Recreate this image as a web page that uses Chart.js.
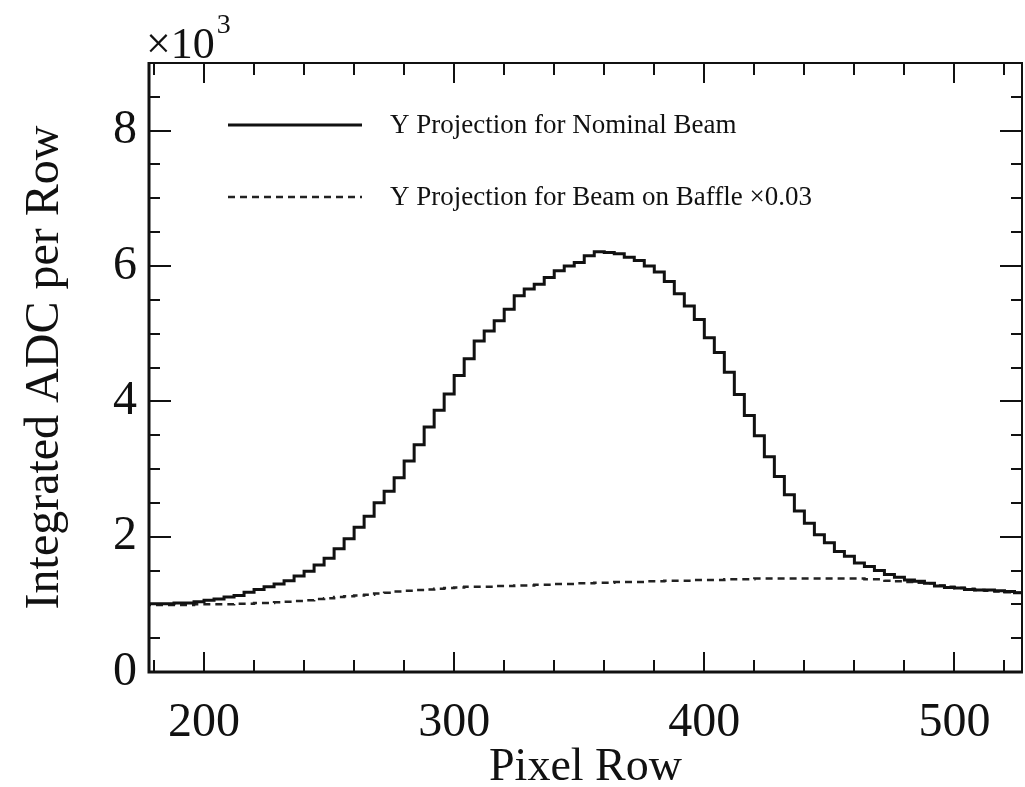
<!DOCTYPE html>
<html><head><meta charset="utf-8">
<script src="https://cdn.jsdelivr.net/npm/chart.js@4.4.0/dist/chart.umd.min.js"></script>
<style>html,body{margin:0;padding:0;background:#fff;}#wrap{width:1025px;height:787px;}</style>
</head><body><div id="wrap"><canvas id="c" width="1025" height="787"></canvas></div>
<script>
// Bin left edges (pixel rows), bin width 4
const binStarts = [180,184,188,192,196,200,204,208,212,216,220,224,228,232,236,240,244,248,252,256,260,264,268,272,276,280,284,288,292,296,300,304,308,312,316,320,324,328,332,336,340,344,348,352,356,360,364,368,372,376,380,384,388,392,396,400,404,408,412,416,420,424,428,432,436,440,444,448,452,456,460,464,468,472,476,480,484,488,492,496,500,504,508,512,516,520,524,528];
const binEnd = 532;
const leftEdge = 176;
// Integrated ADC per row (x10^3)
const nominalBeam = [1.01,1.01,1.01,1.02,1.02,1.04,1.06,1.08,1.11,1.13,1.18,1.22,1.26,1.30,1.35,1.42,1.49,1.58,1.68,1.82,1.97,2.14,2.30,2.50,2.67,2.87,3.12,3.36,3.62,3.87,4.11,4.38,4.63,4.89,5.04,5.19,5.36,5.56,5.66,5.73,5.83,5.93,6.00,6.05,6.15,6.21,6.20,6.18,6.13,6.08,6.00,5.91,5.77,5.59,5.41,5.21,4.94,4.72,4.43,4.10,3.79,3.49,3.18,2.89,2.62,2.38,2.20,2.03,1.91,1.78,1.71,1.61,1.56,1.50,1.44,1.40,1.36,1.34,1.31,1.27,1.25,1.24,1.22,1.21,1.21,1.20,1.19,1.17];
const beamOnBaffle = [0.99,0.99,0.99,0.99,0.99,1.00,1.00,1.00,1.00,1.01,1.01,1.02,1.02,1.03,1.04,1.05,1.06,1.08,1.09,1.11,1.12,1.13,1.14,1.16,1.17,1.19,1.20,1.21,1.22,1.23,1.24,1.25,1.26,1.26,1.26,1.27,1.27,1.28,1.28,1.29,1.29,1.30,1.30,1.31,1.31,1.32,1.32,1.33,1.33,1.33,1.34,1.34,1.35,1.35,1.35,1.36,1.36,1.36,1.37,1.37,1.37,1.38,1.38,1.38,1.38,1.38,1.38,1.38,1.38,1.38,1.38,1.38,1.37,1.37,1.35,1.34,1.33,1.32,1.31,1.28,1.26,1.24,1.23,1.21,1.20,1.19,1.18,1.17];
const seriesLabels = ['Y Projection for Nominal Beam', 'Y Projection for Beam on Baffle \u00d70.03'];
const xTickValues = [200,300,400,500];
const yTickValues = [0,2,4,6,8];
const xTitle = 'Pixel Row';
const yTitle = 'Integrated ADC per Row';
const yMultiplier = ['\u00d710', '3'];

const FONT = 'Liberation Serif, Times New Roman, serif';
const INK = '#111';

function toSteps(vals){
  const pts = [{x:leftEdge, y:vals[0]}];
  binStarts.forEach((x,i)=>pts.push({x:x, y:vals[i]}));
  pts.push({x:binEnd, y:vals[vals.length-1]});
  return pts;
}

const framePlugin = {
  id:'frame',
  afterDatasetsDraw(chart){
    const {ctx, chartArea:a, scales:{x, y}} = chart;
    ctx.save();
    ctx.strokeStyle = INK;
    ctx.lineCap = 'butt';
    ctx.lineWidth = 2;
    for(let v=180; v<=520; v+=20){
      const px = Math.round(x.getPixelForValue(v));
      const major = v % 100 === 0;
      const L = major ? 20 : 12;
      ctx.beginPath();
      ctx.moveTo(px, a.bottom); ctx.lineTo(px, a.bottom - L);
      ctx.moveTo(px, a.top); ctx.lineTo(px, a.top + L);
      ctx.stroke();
    }
    for(let v=0.5; v<9; v+=0.5){
      const py = Math.round(y.getPixelForValue(v));
      const major = v % 2 === 0;
      const L = major ? 22 : 11;
      ctx.beginPath();
      ctx.moveTo(a.left, py); ctx.lineTo(a.left + L, py);
      ctx.moveTo(a.right, py); ctx.lineTo(a.right - L, py);
      ctx.stroke();
    }
    ctx.lineWidth = 2;
    ctx.beginPath();
    ctx.moveTo(a.left, a.top); ctx.lineTo(a.right, a.top); ctx.lineTo(a.right, a.bottom);
    ctx.stroke();
    ctx.lineWidth = 3;
    ctx.beginPath();
    ctx.moveTo(a.left, a.top - 1); ctx.lineTo(a.left, a.bottom); ctx.lineTo(a.right + 1, a.bottom);
    ctx.stroke();

    chart.data.datasets.forEach((ds, i)=>{
      const ly = 125 + i*72;
      ctx.save();
      ctx.strokeStyle = ds.borderColor;
      ctx.lineWidth = ds.borderWidth;
      ctx.setLineDash(ds.borderDash || []);
      ctx.beginPath(); ctx.moveTo(228, ly); ctx.lineTo(362, ly); ctx.stroke();
      ctx.restore();
      ctx.fillStyle = INK;
      ctx.font = '27px ' + FONT;
      ctx.textBaseline = 'middle';
      ctx.textAlign = 'left';
      ctx.fillText(ds.label, 390, ly + 1);
    });

    ctx.fillStyle = INK;
    ctx.textBaseline = 'alphabetic';
    ctx.textAlign = 'left';
    ctx.font = '44px ' + FONT;
    ctx.fillText(yMultiplier[0], 146, 58);
    const w = ctx.measureText(yMultiplier[0]).width;
    ctx.font = '28px ' + FONT;
    ctx.fillText(yMultiplier[1], 146 + w + 2, 33);
    ctx.restore();
  }
};

new Chart(document.getElementById('c'), {
  type:'line',
  data:{
    datasets:[
      {label:seriesLabels[0], data:toSteps(nominalBeam), stepped:'after', borderColor:INK, borderWidth:3, pointRadius:0, fill:false},
      {label:seriesLabels[1], data:toSteps(beamOnBaffle), stepped:'after', borderColor:'#222', borderWidth:2.5, borderDash:[7,5], pointRadius:0, fill:false}
    ]
  },
  options:{
    responsive:false, animation:false, devicePixelRatio:1,
    layout:{padding:{top:63, right:3, left:0, bottom:0}},
    plugins:{legend:{display:false}, tooltip:{enabled:false}},
    scales:{
      x:{
        type:'linear', min:178, max:527,
        afterBuildTicks(s){ s.ticks = xTickValues.map(v=>({value:v})); },
        afterFit(s){ s.height = 115; },
        grid:{display:false, drawTicks:false}, border:{display:false},
        ticks:{font:{family:FONT, size:48}, color:INK, padding:23, maxRotation:0, autoSkip:false},
        title:{display:true, text:xTitle, color:INK, font:{family:FONT, size:46, lineHeight:1}, padding:{top:0, bottom:-4}}
      },
      y:{
        type:'linear', min:0, max:9,
        afterBuildTicks(s){ s.ticks = yTickValues.map(v=>({value:v})); },
        afterFit(s){ s.width = 149; },
        grid:{display:false, drawTicks:false}, border:{display:false},
        ticks:{font:{family:FONT, size:48}, color:INK, padding:12, autoSkip:false},
        title:{display:true, text:yTitle, color:INK, font:{family:FONT, size:48, lineHeight:1}, padding:{top:21, bottom:0}}
      }
    }
  },
  plugins:[framePlugin]
});
</script></body></html>
